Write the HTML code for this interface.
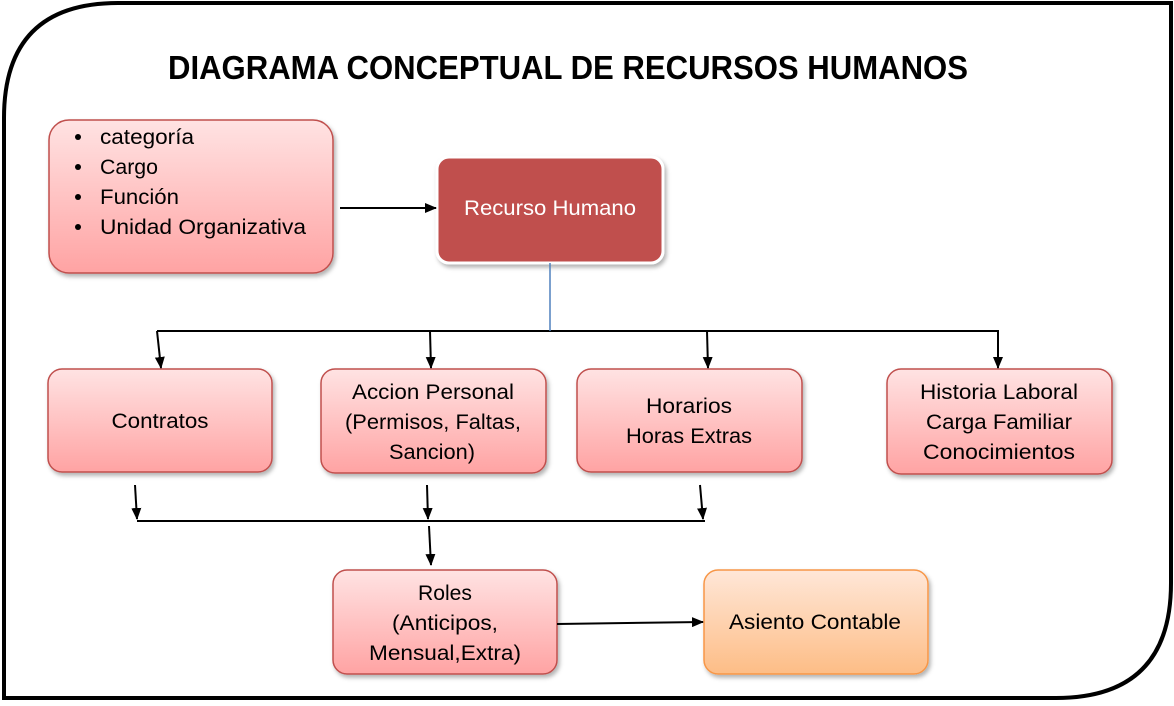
<!DOCTYPE html>
<html><head><meta charset="utf-8"><style>
body{margin:0;background:#fff;width:1174px;height:701px;overflow:hidden;font-family:"Liberation Sans",sans-serif}
</style></head><body>
<svg width="1174" height="701" viewBox="0 0 1174 701" xmlns="http://www.w3.org/2000/svg" font-family="Liberation Sans, sans-serif">
<defs>
<linearGradient id="pk" x1="0" y1="0" x2="0" y2="1"><stop offset="0" stop-color="#ffe3e3"/><stop offset="1" stop-color="#ffa3a3"/></linearGradient>
<linearGradient id="or" x1="0" y1="0" x2="0" y2="1"><stop offset="0" stop-color="#ffe7d8"/><stop offset="1" stop-color="#fdbd86"/></linearGradient>
<filter id="sh" x="-10%" y="-10%" width="130%" height="130%"><feDropShadow dx="2" dy="3" stdDeviation="2" flood-color="#000" flood-opacity="0.3"/></filter>
<marker id="ah" markerWidth="12" markerHeight="10" refX="11" refY="5" orient="auto" markerUnits="userSpaceOnUse"><path d="M0,0 L12,5 L0,10 z" fill="#000"/></marker>
</defs>
<path d="M118,3 H1171 V583 Q1171,698 1056,698 H4 V118 Q4,3 118,3 Z" fill="#fff" stroke="#000" stroke-width="4"/>
<text x="568" y="79" text-anchor="middle" font-size="33" font-weight="bold" textLength="800" lengthAdjust="spacingAndGlyphs">DIAGRAMA CONCEPTUAL DE RECURSOS HUMANOS</text>

<g filter="url(#sh)" stroke="#c0504d" stroke-width="1.5">
<rect x="49" y="120" width="284" height="153" rx="20" fill="url(#pk)"/>
<rect x="48" y="369" width="224" height="103" rx="14" fill="url(#pk)"/>
<rect x="321" y="369" width="225" height="104" rx="14" fill="url(#pk)"/>
<rect x="577" y="369" width="225" height="103" rx="14" fill="url(#pk)"/>
<rect x="887" y="369" width="225" height="105" rx="14" fill="url(#pk)"/>
<rect x="333" y="570" width="224" height="104" rx="14" fill="url(#pk)"/>
<rect x="704" y="570" width="224" height="104" rx="14" fill="url(#or)" stroke="#f79646"/>
<rect x="437" y="157" width="226" height="106" rx="12" fill="#c0504d" stroke="#fff" stroke-width="3"/>
</g>

<g font-size="21" fill="#000" lengthAdjust="spacingAndGlyphs">
<circle cx="78" cy="137" r="3"/><text x="100" y="144" textLength="94" lengthAdjust="spacingAndGlyphs">categoría</text>
<circle cx="78" cy="167" r="3"/><text x="100" y="174" textLength="58" lengthAdjust="spacingAndGlyphs">Cargo</text>
<circle cx="78" cy="197" r="3"/><text x="100" y="204" textLength="79" lengthAdjust="spacingAndGlyphs">Función</text>
<circle cx="78" cy="227" r="3"/><text x="100" y="234" textLength="206" lengthAdjust="spacingAndGlyphs">Unidad Organizativa</text>
<text x="550" y="215" text-anchor="middle" fill="#fff" textLength="172" lengthAdjust="spacingAndGlyphs">Recurso Humano</text>
<text x="160" y="428" text-anchor="middle" textLength="97" lengthAdjust="spacingAndGlyphs">Contratos</text>
<text x="433" y="399" text-anchor="middle" textLength="162" lengthAdjust="spacingAndGlyphs">Accion Personal</text>
<text x="433" y="429" text-anchor="middle" textLength="176" lengthAdjust="spacingAndGlyphs">(Permisos, Faltas,</text>
<text x="432" y="459" text-anchor="middle" textLength="86" lengthAdjust="spacingAndGlyphs">Sancion)</text>
<text x="689" y="413" text-anchor="middle" textLength="86" lengthAdjust="spacingAndGlyphs">Horarios</text>
<text x="689" y="443" text-anchor="middle" textLength="126" lengthAdjust="spacingAndGlyphs">Horas Extras</text>
<text x="999" y="399" text-anchor="middle" textLength="158" lengthAdjust="spacingAndGlyphs">Historia Laboral</text>
<text x="999" y="429" text-anchor="middle" textLength="146" lengthAdjust="spacingAndGlyphs">Carga Familiar</text>
<text x="999" y="459" text-anchor="middle" textLength="152" lengthAdjust="spacingAndGlyphs">Conocimientos</text>
<text x="445" y="600" text-anchor="middle" textLength="54" lengthAdjust="spacingAndGlyphs">Roles</text>
<text x="445" y="630" text-anchor="middle" textLength="106" lengthAdjust="spacingAndGlyphs">(Anticipos,</text>
<text x="445" y="660" text-anchor="middle" textLength="152" lengthAdjust="spacingAndGlyphs">Mensual,Extra)</text>
<text x="815" y="629" text-anchor="middle" textLength="172" lengthAdjust="spacingAndGlyphs">Asiento Contable</text>
</g>

<g stroke="#000" stroke-width="2" fill="none">
<line x1="340" y1="208" x2="436" y2="208" marker-end="url(#ah)"/>
<line x1="157" y1="331" x2="999" y2="331"/>
<line x1="157" y1="331" x2="161" y2="368" marker-end="url(#ah)"/>
<line x1="430" y1="331" x2="431" y2="368" marker-end="url(#ah)"/>
<line x1="707" y1="331" x2="708" y2="368" marker-end="url(#ah)"/>
<line x1="998" y1="331" x2="998" y2="368" marker-end="url(#ah)"/>
<line x1="135" y1="485" x2="137" y2="519" marker-end="url(#ah)"/>
<line x1="427" y1="485" x2="428" y2="519" marker-end="url(#ah)"/>
<line x1="700" y1="485" x2="703" y2="519" marker-end="url(#ah)"/>
<line x1="137" y1="521" x2="705" y2="521"/>
<line x1="429" y1="526" x2="431" y2="565" marker-end="url(#ah)"/>
<line x1="557" y1="624" x2="703" y2="622" marker-end="url(#ah)"/>
</g>
<line x1="550" y1="263" x2="550" y2="331" stroke="#4f81bd" stroke-width="1.5"/>
</svg>
</body></html>
